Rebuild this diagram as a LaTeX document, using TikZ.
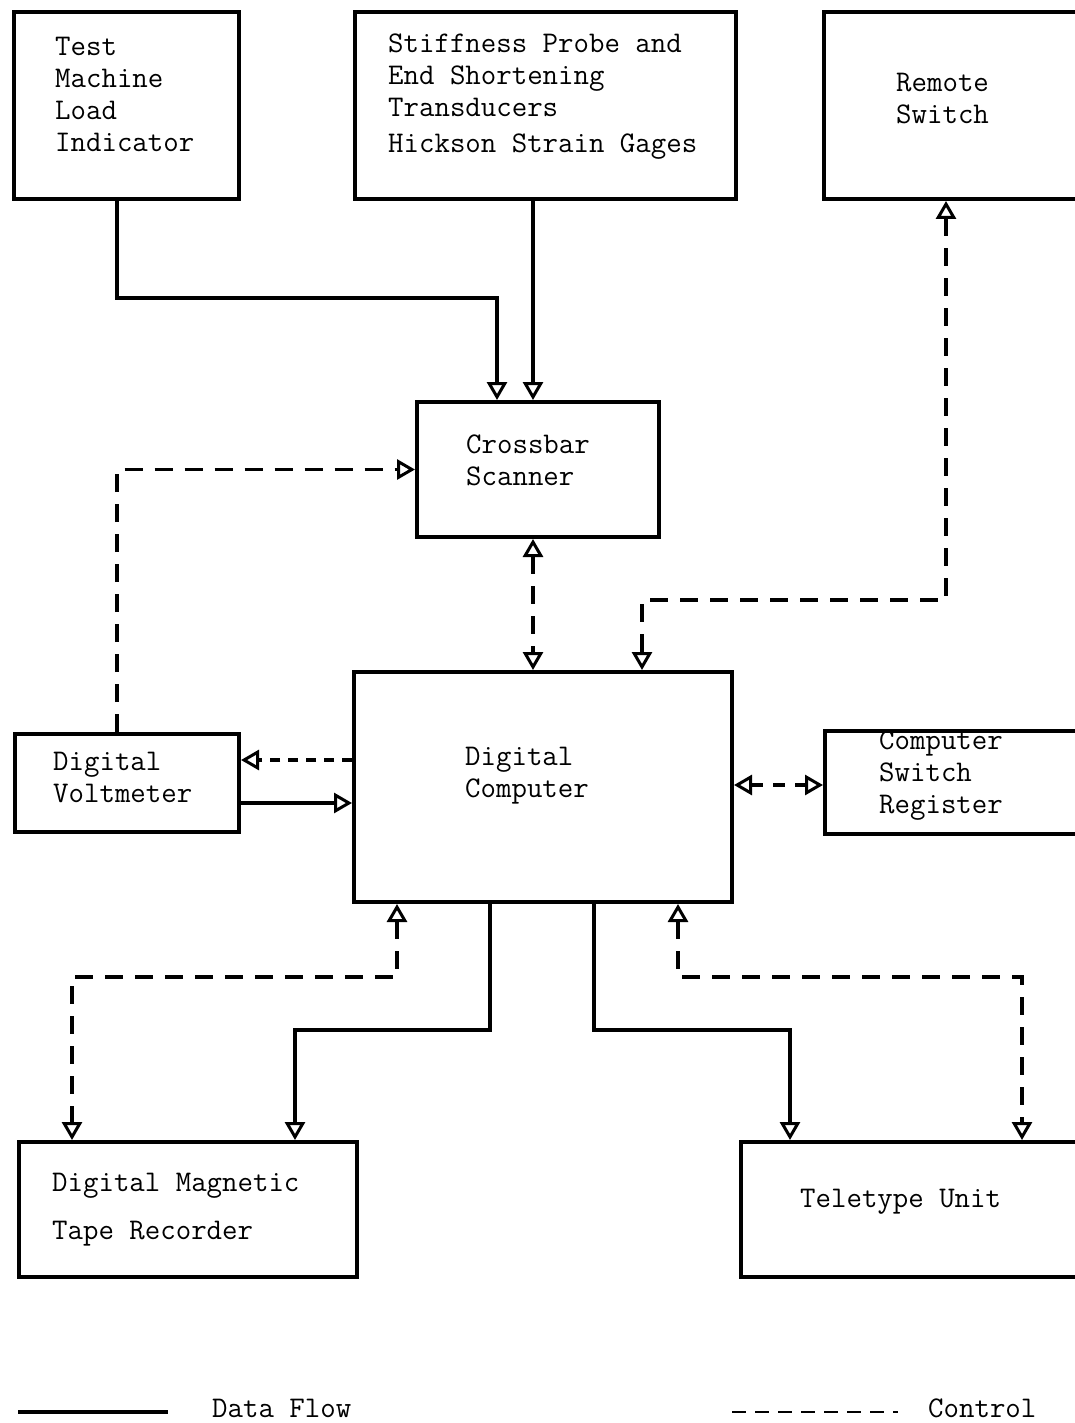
\documentclass[tikz,border=0pt]{standalone}
\usepackage{fontspec}
\usetikzlibrary{arrows.meta}
\begin{document}
\begin{tikzpicture}[x=1pt,y=-1pt,
  box/.style={draw, line width=4pt, rectangle, anchor=north west, inner sep=0pt},
  lbl/.style={anchor=west, align=left, inner sep=0pt, font=\ttfamily\fontsize{30}{32}\selectfont},
  tip/.tip={Triangle[open, length=18pt, width=20pt, line width=3pt, fill=white]},
  data/.style={line width=3.2pt, line join=miter},
  ctrl/.style={line width=3.2pt, dash pattern=on 18pt off 12pt},
]
\useasboundingbox (0,0) rectangle (1075,1423);
\clip (0,0) rectangle (1075,1423);
% boxes
\node[box, minimum width=225pt, minimum height=187pt] (test) at (12,10) {};
\node[box, minimum width=381pt, minimum height=187pt] (stiff) at (353,10) {};
\node[box, minimum width=263pt, minimum height=187pt] (remote) at (822,10) {};
\node[box, minimum width=242pt, minimum height=135pt] (scan) at (415,400) {};
\node[box, minimum width=378pt, minimum height=230pt] (comp) at (352,670) {};
\node[box, minimum width=224pt, minimum height=98pt] (volt) at (13,732) {};
\node[box, minimum width=262pt, minimum height=103pt] (reg) at (823,729) {};
\node[box, minimum width=338pt, minimum height=135pt] (tape) at (17,1140) {};
\node[box, minimum width=346pt, minimum height=135pt] (tele) at (739,1140) {};
% texts
\node[lbl] (testT) at (55,94) {Test\\Machine\\Load\\Indicator};
\node[lbl] (stiffT) at (388,97) {Stiffness Probe and\\End Shortening\\Transducers\\[4pt]Hickson Strain Gages};
\node[lbl] (remoteT) at (896,99) {Remote\\Switch};
\node[lbl] (scanT) at (466,460) {Crossbar\\Scanner};
\node[lbl] (compT) at (465,776) {Digital\\Computer};
\node[lbl] (voltT) at (53,777) {Digital\\Voltmeter};
\node[lbl] (regT) at (879,776) {Computer\\Switch\\Register};
\node[lbl] (tapeT) at (52,1210) {Digital Magnetic\\[16pt]Tape Recorder};
\node[lbl] (teleT) at (800,1202) {Teletype Unit};
% data flow
\draw[data, -tip] ([xshift=105pt]test.south west) |- (497,298) -- ([xshift=82pt]scan.north west);
\draw[data, -tip] ([xshift=180pt]stiff.south west) -- ([xshift=118pt]scan.north west);
\draw[data, -tip] ([yshift=-71pt]volt.north east) -- ([yshift=-133pt]comp.north west);
\draw[data, -tip] ([xshift=138pt]comp.south west) |- (295,1030) -- ([xshift=278pt]tape.north west);
\draw[data, -tip] ([xshift=242pt]comp.south west) |- (790,1030) -- ([xshift=51pt]tele.north west);
% control
\draw[ctrl, -tip] ([xshift=104pt]volt.north west) |- (scan.west);
\draw[ctrl, tip-tip] ([xshift=118pt]scan.south west) -- ([xshift=181pt]comp.north west);
\draw[ctrl, tip-tip] ([xshift=124pt]remote.south west) |- (642,600) -- ([xshift=290pt]comp.north west);
\draw[ctrl, dash pattern=on 10pt off 8pt, -tip] ([yshift=-90pt]comp.north west) -- ([yshift=-28pt]volt.north east);
\draw[ctrl, dash pattern=on 12pt off 10pt, tip-tip] ([yshift=-115pt]comp.north east) -- ([yshift=-56pt]reg.north west);
\draw[ctrl, tip-tip] ([xshift=45pt]comp.south west) |- (72,977) -- ([xshift=55pt]tape.north west);
\draw[ctrl, tip-tip] ([xshift=326pt]comp.south west) |- (1022,977) -- ([xshift=283pt]tele.north west);
% legend
\coordinate (dA) at (18,1412);
\coordinate (dB) at (168,1412);
\coordinate (cA) at (732,1412);
\coordinate (cB) at (898,1412);
\draw[data] (dA) -- (dB);
\draw[line width=2.5pt, dash pattern=on 14pt off 9pt] (cA) -- (cB);
\node[lbl, anchor=base west] (legD) at (212,1417) {Data Flow};
\node[lbl, anchor=base west] (legC) at (928,1417) {Control};
\end{tikzpicture}
\end{document}
